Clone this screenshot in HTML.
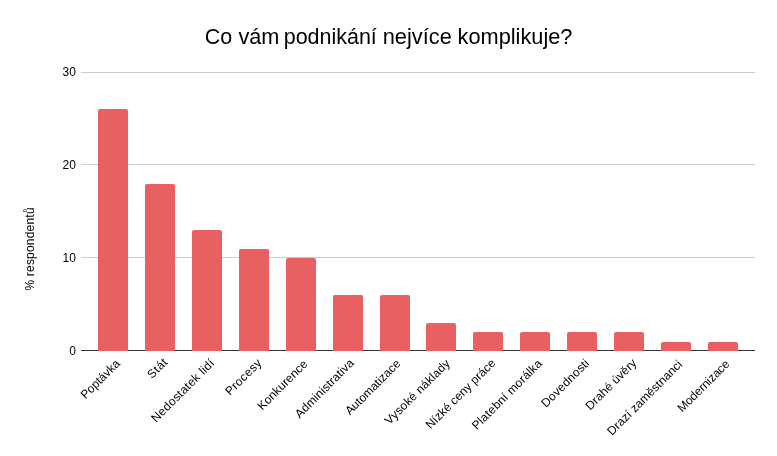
<!DOCTYPE html>
<html lang="cs"><head><meta charset="utf-8"><title>Co vám podnikání nejvíce komplikuje?</title>
<style>html,body{margin:0;padding:0;background:#fff}svg{display:block}text{font-family:"Liberation Sans",sans-serif;fill:#000}</style></head><body>
<svg width="777" height="456" viewBox="0 0 777 456">
<rect width="777" height="456" fill="#fff"/>
<text id="title" y="43.9" font-size="21.8"><tspan x="204.85" textLength="27.40" lengthAdjust="spacingAndGlyphs">Co</tspan> <tspan x="238.45" textLength="41.00" lengthAdjust="spacingAndGlyphs">vám</tspan> <tspan x="283.70" textLength="93.15" lengthAdjust="spacingAndGlyphs">podnikání</tspan> <tspan x="382.75" textLength="69.05" lengthAdjust="spacingAndGlyphs">nejvíce</tspan> <tspan x="457.55" textLength="114.90" lengthAdjust="spacingAndGlyphs">komplikuje?</tspan></text>
<rect x="81" y="72" width="674" height="1" fill="#ccc"/>
<rect x="81" y="164" width="674" height="1" fill="#ccc"/>
<rect x="81" y="257" width="674" height="1" fill="#ccc"/>
<rect x="81" y="350" width="674" height="1" fill="#333"/>
<path d="M98,351V111.00a2,2 0 0 1 2,-2H126a2,2 0 0 1 2,2V351Z" fill="#e86062"/>
<path d="M145,351V186.00a2,2 0 0 1 2,-2H173a2,2 0 0 1 2,2V351Z" fill="#e86062"/>
<path d="M192,351V232.00a2,2 0 0 1 2,-2H220a2,2 0 0 1 2,2V351Z" fill="#e86062"/>
<path d="M239,351V251.00a2,2 0 0 1 2,-2H267a2,2 0 0 1 2,2V351Z" fill="#e86062"/>
<path d="M286,351V260.00a2,2 0 0 1 2,-2H314a2,2 0 0 1 2,2V351Z" fill="#e86062"/>
<path d="M333,351V297.00a2,2 0 0 1 2,-2H361a2,2 0 0 1 2,2V351Z" fill="#e86062"/>
<path d="M380,351V297.00a2,2 0 0 1 2,-2H408a2,2 0 0 1 2,2V351Z" fill="#e86062"/>
<path d="M426,351V325.00a2,2 0 0 1 2,-2H454a2,2 0 0 1 2,2V351Z" fill="#e86062"/>
<path d="M473,351V334.00a2,2 0 0 1 2,-2H501a2,2 0 0 1 2,2V351Z" fill="#e86062"/>
<path d="M520,351V334.00a2,2 0 0 1 2,-2H548a2,2 0 0 1 2,2V351Z" fill="#e86062"/>
<path d="M567,351V334.00a2,2 0 0 1 2,-2H595a2,2 0 0 1 2,2V351Z" fill="#e86062"/>
<path d="M614,351V334.00a2,2 0 0 1 2,-2H642a2,2 0 0 1 2,2V351Z" fill="#e86062"/>
<path d="M661,351V344.00a2,2 0 0 1 2,-2H689a2,2 0 0 1 2,2V351Z" fill="#e86062"/>
<path d="M708,351V344.00a2,2 0 0 1 2,-2H736a2,2 0 0 1 2,2V351Z" fill="#e86062"/>
<text class="yt" x="75.9" y="75.9" text-anchor="end" font-size="12">30</text>
<text class="yt" x="75.9" y="168.8" text-anchor="end" font-size="12">20</text>
<text class="yt" x="75.9" y="261.8" text-anchor="end" font-size="12">10</text>
<text class="yt" x="75.9" y="354.8" text-anchor="end" font-size="12">0</text>
<text id="ytitle" transform="translate(34.2,249.0) rotate(-90)" text-anchor="middle" font-size="12" textLength="83.2" lengthAdjust="spacing">% respondentů</text>
<text class="xl" transform="translate(120.75,364.25) rotate(-45)" text-anchor="end" font-size="12" letter-spacing="-0.016">Poptávka</text>
<text class="xl" transform="translate(168.38,362.82) rotate(-45)" text-anchor="end" font-size="12" letter-spacing="0.466">Stát</text>
<text class="xl" transform="translate(215.37,363.63) rotate(-45)" text-anchor="end" font-size="12" letter-spacing="0.308">Nedostatek lidí</text>
<text class="xl" transform="translate(262.57,363.43) rotate(-45)" text-anchor="end" font-size="12" letter-spacing="0.362">Procesy</text>
<text class="xl" transform="translate(308.40,364.60) rotate(-45)" text-anchor="end" font-size="12" letter-spacing="0.136">Konkurence</text>
<text class="xl" transform="translate(354.82,363.62) rotate(-45)" text-anchor="end" font-size="12" letter-spacing="0.176">Administrativa</text>
<text class="xl" transform="translate(401.16,364.36) rotate(-45)" text-anchor="end" font-size="12" letter-spacing="-0.024">Automatizace</text>
<text class="xl" transform="translate(450.78,364.02) rotate(-45)" text-anchor="end" font-size="12" letter-spacing="0.211">Vysoké náklady</text>
<text class="xl" transform="translate(496.30,363.70) rotate(-45)" text-anchor="end" font-size="12" letter-spacing="0.030">Nízké ceny práce</text>
<text class="xl" transform="translate(542.90,364.10) rotate(-45)" text-anchor="end" font-size="12" letter-spacing="0.216">Platební morálka</text>
<text class="xl" transform="translate(590.13,363.87) rotate(-45)" text-anchor="end" font-size="12" letter-spacing="0.240">Dovednosti</text>
<text class="xl" transform="translate(637.37,363.63) rotate(-45)" text-anchor="end" font-size="12" letter-spacing="0.110">Drahé úvěry</text>
<text class="xl" transform="translate(682.92,365.08) rotate(-45)" text-anchor="end" font-size="12" letter-spacing="0.045">Drazí zaměstnanci</text>
<text class="xl" transform="translate(730.15,364.85) rotate(-45)" text-anchor="end" font-size="12" letter-spacing="-0.077">Modernizace</text>
</svg></body></html>
